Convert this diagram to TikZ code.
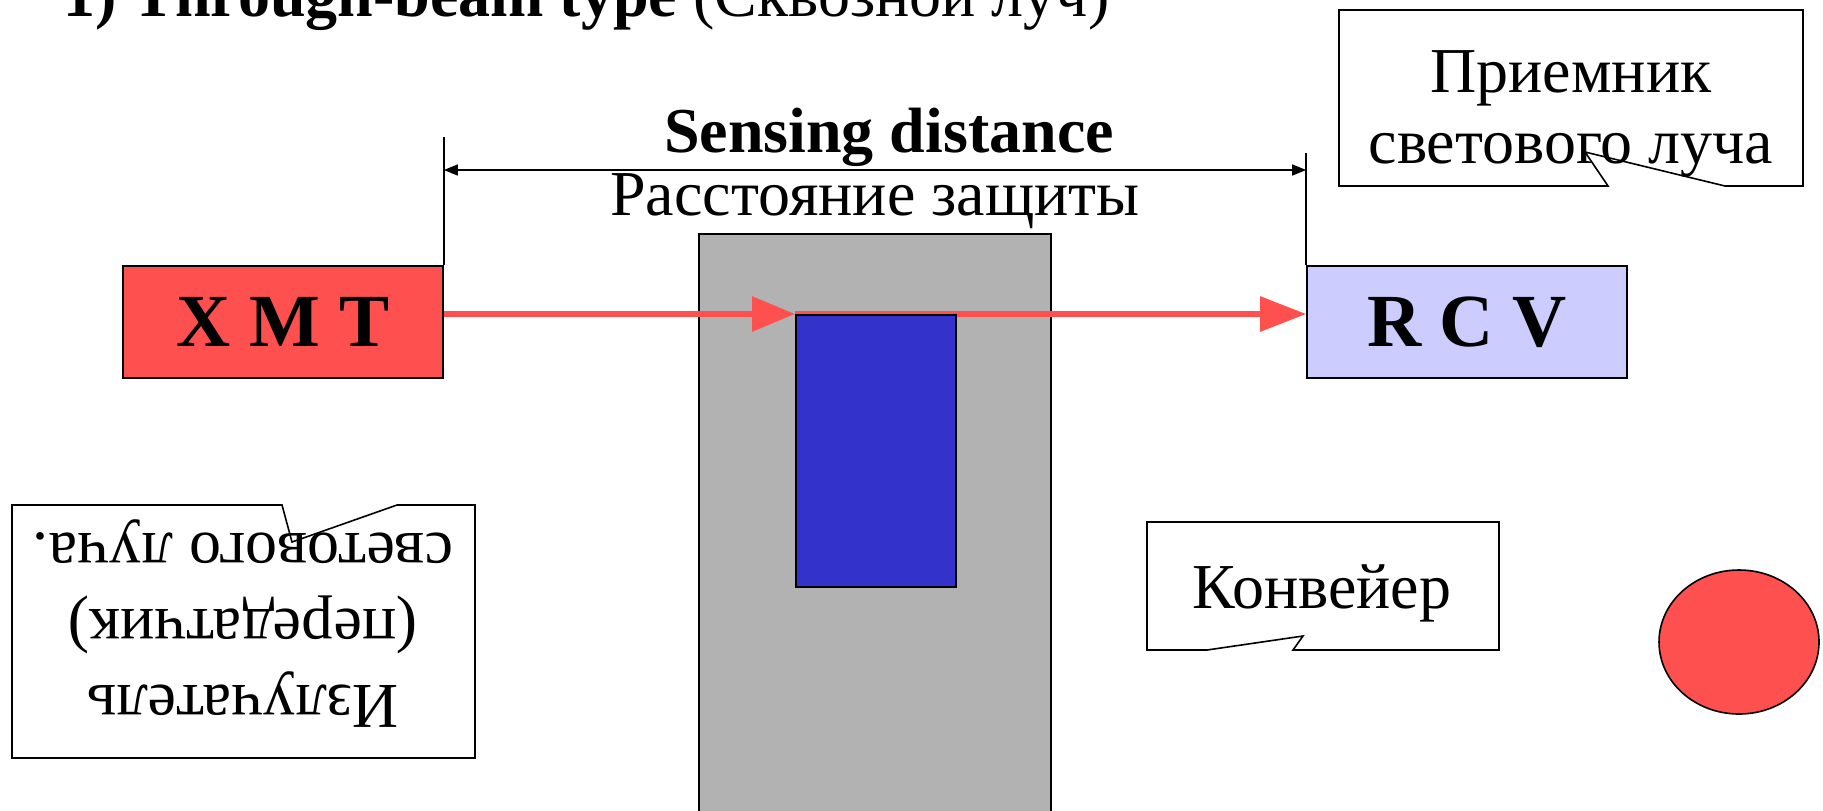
\documentclass[tikz,border=0pt]{standalone}
\usepackage{fontspec}
\setmainfont{Liberation Serif}
\usetikzlibrary{arrows.meta,calc}
\definecolor{beamred}{HTML}{FF5050}
\definecolor{rcvblue}{HTML}{CCCCFF}
\definecolor{beltgray}{HTML}{B2B2B2}
\definecolor{objblue}{HTML}{3333CC}
\tikzset{
  sensor/.style={draw, line width=0.85pt, minimum width=160pt, minimum height=56pt, inner sep=0pt, font=\fontsize{37.5}{40}\selectfont\bfseries},
  bigtext/.style={inner sep=0pt, font=\fontsize{32}{36}\selectfont},
  thinline/.style={line width=0.75pt},
  beam/.style={draw=beamred, line width=3pt},
  bubble/.style={draw, fill=white, line width=0.8pt},
}
\begin{document}
\begin{tikzpicture}[>={Triangle[length=7pt,width=5.5pt]}, x=0.5pt, y=-0.5pt]
\useasboundingbox (0,0) rectangle (1823,810);

\node[bigtext, anchor=base west] (title) at (63,16) {\textbf{1) Through-beam type} (Сквозной луч)};

\node[sensor, fill=beamred] (xmt) at (283,322) {X M T};
\node[sensor, fill=rcvblue] (rcv) at (1467,322) {R C V};

\draw[thinline] (xmt.north east) -- ++(0,-128);
\draw[thinline] (rcv.north west) -- ++(0,-112);
\coordinate (dimL) at (xmt.north east |- 0,170);
\coordinate (dimR) at (rcv.north west |- 0,170);
\draw[thinline, <->] (dimL) -- (dimR);
\node[bigtext, anchor=base] (sensing) at (889,152) {\bfseries Sensing distance};
\node[bigtext, anchor=base] (rasst) at (875,215) {Расстояние защиты};

\draw[fill=beltgray, line width=0.8pt] (699,234) rectangle (1051,830);
\coordinate (objcorner) at (795,314);
\coordinate (beamstart) at (xmt.east |- objcorner);
\coordinate (beamend) at (rcv.west |- objcorner);
\draw[beam, -{Triangle[length=21.5pt,width=17pt]}] (beamstart) -- (objcorner);
\draw[beam, -{Triangle[length=23pt,width=17pt]}] (objcorner) -- (beamend);
\node[draw, fill=objblue, line width=0.8pt, inner sep=0pt, minimum width=80pt, minimum height=136pt, anchor=north west] (obj) at (objcorner) {};

% callouts
\draw[bubble] (1339,10) -- (1803,10) -- (1803,186) -- (1725,186) -- (1585,152) -- (1608,186) -- (1339,186) -- cycle;
\node[bigtext, anchor=base] (rcvnoteA) at (1571,92) {Приемник};
\node[bigtext, anchor=base] (rcvnoteB) at (1571,163) {светового луча};

\draw[bubble] (12,505) -- (282,505) -- (292,542) -- (397,505) -- (475,505) -- (475,758) -- (12,758) -- cycle;
\node[bigtext, anchor=base, rotate=180] (xmtnoteC) at (243,533) {светового луча.};
\node[bigtext, anchor=base, rotate=180] (xmtnoteB) at (243,609) {(передатчик)};
\node[bigtext, anchor=base, rotate=180] (xmtnoteA) at (243,685) {Излучатель};

\draw[bubble] (1147,522) -- (1499,522) -- (1499,650) -- (1293,650) -- (1303,636) -- (1207,650) -- (1147,650) -- cycle;
\node[bigtext, anchor=base] (beltnote) at (1322,608) {Конвейер};

\draw[fill=beamred, line width=0.8pt] (1739,642) ellipse [x radius=80, y radius=72];
\end{tikzpicture}
\end{document}
